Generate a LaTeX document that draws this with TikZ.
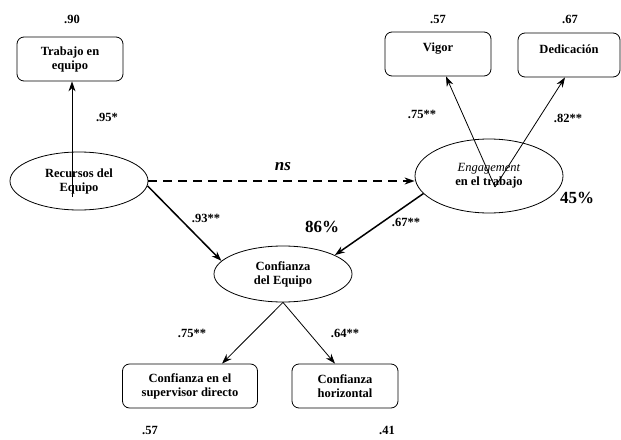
\documentclass[tikz,border=0pt]{standalone}
\usepackage{fontspec}
\setmainfont{Liberation Serif}
\usetikzlibrary{shapes.geometric,arrows.meta}

\begin{document}
\begin{tikzpicture}[x=1pt,y=-1pt,
    font=\fontsize{12.5}{14}\selectfont\bfseries,
    obsbox/.style={draw,rounded corners=7pt,align=center,minimum width=106pt,minimum height=44pt,inner sep=2pt,line width=0.8pt},
    latent/.style={draw,ellipse,align=center,minimum width=138pt,minimum height=58pt,inner sep=0pt,line width=0.8pt},
    regarrow/.style={-{Stealth[length=10pt,width=7pt]},line width=1.5pt},
    loadarrow/.style={-{Stealth[length=10pt,width=7pt]},line width=0.8pt},
    pct/.style={font=\fontsize{17}{19}\selectfont\bfseries}]
  \useasboundingbox (0,0) rectangle (621,439);

  \node[obsbox] (trab) at (70,59) {Trabajo en\\equipo};
  \node[obsbox,text depth=14pt] (vig) at (438,54) {Vigor};
  \node[obsbox,text depth=11pt,minimum width=102pt] (ded) at (569,55) {Dedicación};
  \node[obsbox,minimum width=135pt] (sup) at (190,386) {Confianza en el\\supervisor directo};
  \node[obsbox] (hor) at (345,386) {Confianza\\horizontal};

  \node[latent] (rec) at (79,181) {Recursos del\\Equipo};
  \node[latent,minimum width=148pt,minimum height=74pt] (eng) at (489,176) {\textnormal{\itshape Engagement}\\en el trabajo};
  \node[latent,minimum height=56pt] (conf) at (283,274) {Confianza\\del Equipo};

  \coordinate (recin) at (72,197);
  \coordinate (engin) at (495,187);

  \draw[loadarrow] (recin) -- (recin |- trab.south);
  \draw[loadarrow] (engin) -- (vig.south -| 446,0);
  \draw[loadarrow] (engin) -- (ded.south -| 565,0);
  \draw[regarrow,dashed,dash pattern=on 9pt off 6pt] (rec.east) -- (rec.east -| eng.west);
  \draw[regarrow] (rec.-4) -- (conf.168);
  \draw[regarrow] (eng.195) -- (conf.20);
  \draw[loadarrow] (conf.south) -- (sup.north -| 222,0);
  \draw[loadarrow] (conf.south) -- (hor.north -| 335,0);

  \node (r90) at (72,19) {.90};
  \node (r57a) at (438,19) {.57};
  \node (r67) at (570,19) {.67};
  \node (r57b) at (150,430) {.57};
  \node (r41) at (387,430) {.41};
  \node (l95) at (107,117) {.95*};
  \node (l75a) at (422,114) {.75**};
  \node (l82) at (568,118) {.82**};
  \node (l93) at (206,218) {.93**};
  \node (l67) at (406,222) {.67**};
  \node (l75b) at (192,333) {.75**};
  \node (l64) at (345,333) {.64**};
  \node[font=\fontsize{17}{19}\selectfont\bfseries\itshape] (ns) at (283,167) {ns};
  \node[pct] (p86) at (322,227) {86\%};
  \node[pct] (p45) at (577,198) {45\%};
\end{tikzpicture}
\end{document}
